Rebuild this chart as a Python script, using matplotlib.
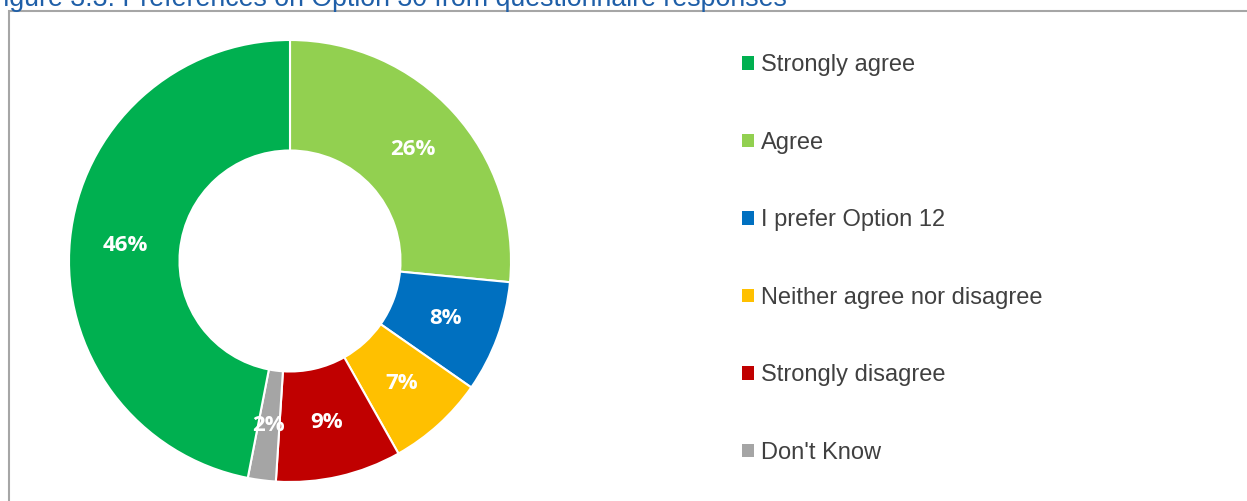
import matplotlib

matplotlib.use("Agg")
import matplotlib.pyplot as plt
import numpy as np
from matplotlib.patches import Patch, Rectangle

plt.rcParams["font.family"] = ["Liberation Sans", "DejaVu Sans"]

# slices in drawing order (clockwise from 12 o'clock)
slice_names = ["Agree", "I prefer Option 12", "Neither agree nor disagree",
               "Strongly disagree", "Don't Know", "Strongly agree"]
slice_pct = [26, 8, 7, 9, 2, 46]
slice_colors = ["#92D050", "#0070C0", "#FFC000", "#C00000", "#A5A5A5", "#00B050"]

# legend order as in the source figure
legend_names = ["Strongly agree", "Agree", "I prefer Option 12",
                "Neither agree nor disagree", "Strongly disagree", "Don't Know"]

TITLE = "Figure 3.3: Preferences on Option 30 from questionnaire responses"

W, H = 1247, 501
fig = plt.figure(figsize=(W / 100, H / 100), dpi=100)

# chart frame (cut off on the right and bottom in the original)
fig.patches.append(Rectangle((8.5 / W, -0.1), 1.2, 1.1 - 10.5 / H,
                             transform=fig.transFigure, fill=False,
                             edgecolor="#A6A6A6", lw=1.5))

# title, top half clipped by the page edge as in the source
fig.text(-13 / W, 1 - 6 / H, TITLE, ha="left", va="baseline",
         fontsize=19.3, color="#1F5FA8")

cx, cy, r = 290, 261, 221
ax = fig.add_axes([(cx - r) / W, (H - cy - r) / H, 2 * r / W, 2 * r / H])
wedges, _ = ax.pie(slice_pct, colors=slice_colors, startangle=90,
                   counterclock=False, radius=1,
                   wedgeprops=dict(width=0.5, edgecolor="white", linewidth=1.5))
tot = sum(slice_pct)
ang = 90.0
for w, v in zip(wedges, slice_pct):
    span = 360.0 * v / tot
    mid = np.deg2rad(ang - span / 2)
    ang -= span
    ax.text(0.75 * np.cos(mid), 0.75 * np.sin(mid), f"{v}%", ha="center",
            va="center", color="white", fontsize=16, fontweight="bold",
            family=["Open Sans", "DejaVu Sans"])
ax.set_xlim(-1, 1)
ax.set_ylim(-1, 1)
ax.set_aspect("equal")
ax.axis("off")

col = dict(zip(slice_names, slice_colors))
handles = [Patch(facecolor=col[n], edgecolor="none", label=n) for n in legend_names]
fig.legend(handles=handles, loc="upper left", bbox_to_anchor=(733 / W, 1 - 45 / H),
           frameon=False, fontsize=17, labelcolor="#404040",
           handlelength=0.5, handleheight=0.5, handletextpad=0.3,
           labelspacing=2.35, borderaxespad=0)

fig.savefig("out.png", dpi=100)
